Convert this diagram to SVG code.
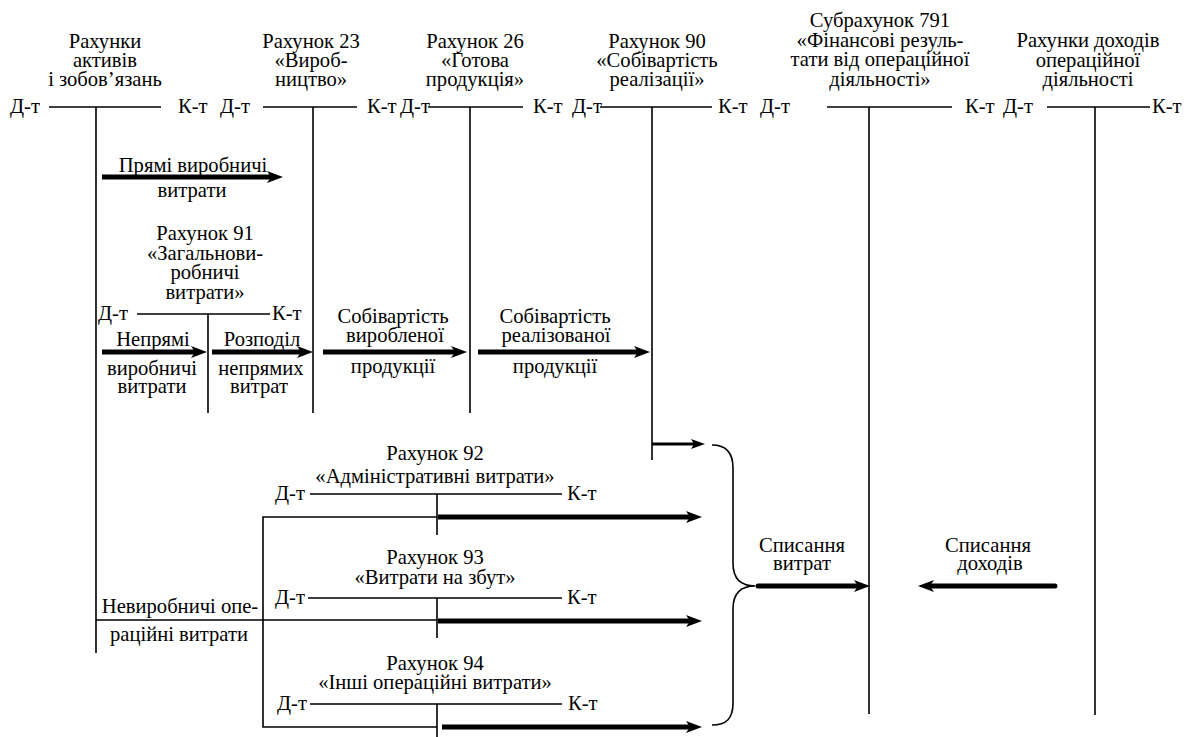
<svg xmlns="http://www.w3.org/2000/svg" width="1192" height="737" viewBox="0 0 1192 737">
<style>
text{font-family:'Liberation Serif', serif;font-size:20.6px;fill:#000}
.m{text-anchor:middle}
.ln{stroke:#000;stroke-width:1.6;fill:none}
.th{stroke:#000;stroke-width:5;fill:none}
.md{stroke:#000;stroke-width:3;fill:none}
</style>
<defs>
<marker id="ah" markerUnits="userSpaceOnUse" markerWidth="16" markerHeight="12" refX="6" refY="6" orient="auto"><path d="M0,0 L16,6 L0,12 L4,6 Z" fill="#000"/></marker>
<marker id="ahs" markerUnits="userSpaceOnUse" markerWidth="14" markerHeight="10" refX="5" refY="5" orient="auto"><path d="M0,0 L14,5 L0,10 L3,5 Z" fill="#000"/></marker>
</defs>
<rect width="1192" height="737" fill="#fff"/>

<g id="acc-assets">
<text class="m" x="105" y="48">Рахунки</text>
<text class="m" x="105" y="67">активів</text>
<text class="m" x="105" y="86">і зобов’язань</text>
<text x="10" y="113">Д-т</text><text x="178" y="113">К-т</text>
<path class="ln" d="M49,107 H161 M96,107 V653"/>
</g>

<g id="acc-23">
<text class="m" x="311" y="48">Рахунок 23</text>
<text class="m" x="311" y="67">«Вироб-</text>
<text class="m" x="311" y="86">ництво»</text>
<text x="220" y="113">Д-т</text><text x="367" y="113">К-т</text>
<path class="ln" d="M263,107 H357 M313,107 V413"/>
</g>

<g id="acc-26">
<text class="m" x="475" y="48">Рахунок 26</text>
<text class="m" x="475" y="67">«Готова</text>
<text class="m" x="475" y="86">продукція»</text>
<text x="400" y="113">Д-т</text><text x="533" y="113">К-т</text>
<path class="ln" d="M428,107 H523 M470,107 V413"/>
</g>

<g id="acc-90">
<text class="m" x="657" y="48">Рахунок 90</text>
<text class="m" x="657" y="67">«Собівартість</text>
<text class="m" x="657" y="86">реалізації»</text>
<text x="572" y="113">Д-т</text><text x="718" y="113">К-т</text>
<path class="ln" d="M600,107 H712 M652,107 V460"/>
</g>

<g id="acc-791">
<text class="m" x="880" y="27">Субрахунок 791</text>
<text class="m" x="880" y="47">«Фінансові резуль-</text>
<text class="m" x="880" y="66">тати від операційної</text>
<text class="m" x="880" y="86">діяльності»</text>
<text x="760" y="113">Д-т</text><text x="965" y="113">К-т</text>
<path class="ln" d="M827,107 H952 M869,107 V714"/>
</g>

<g id="acc-income">
<text class="m" x="1088" y="47">Рахунки доходів</text>
<text class="m" x="1088" y="67">операційної</text>
<text class="m" x="1088" y="86">діяльності</text>
<text x="1003" y="113">Д-т</text><text x="1152" y="113">К-т</text>
<path class="ln" d="M1047,107 H1150 M1095,107 V715"/>
</g>

<g id="acc-91">
<text class="m" x="205" y="240">Рахунок 91</text>
<text class="m" x="205" y="260">«Загальнови-</text>
<text class="m" x="205" y="279">робничі</text>
<text class="m" x="205" y="299">витрати»</text>
<text x="98" y="320">Д-т</text><text x="272" y="320">К-т</text>
<path class="ln" d="M137,314 H270 M208,314 V413"/>
</g>

<g id="acc-92">
<text class="m" x="435" y="460">Рахунок 92</text>
<text class="m" x="435" y="483">«Адміністративні витрати»</text>
<text x="275" y="500">Д-т</text><text x="567" y="500">К-т</text>
<path class="ln" d="M310,494 H562 M437,494 V535"/>
</g>

<g id="acc-93">
<text class="m" x="435" y="564">Рахунок 93</text>
<text class="m" x="435" y="584">«Витрати на збут»</text>
<text x="275" y="604">Д-т</text><text x="567" y="604">К-т</text>
<path class="ln" d="M308,598 H562 M437,598 V638"/>
</g>

<g id="acc-94">
<text class="m" x="435" y="670">Рахунок 94</text>
<text class="m" x="435" y="689">«Інші операційні витрати»</text>
<text x="277" y="710">Д-т</text><text x="568" y="710">К-т</text>
<path class="ln" d="M310,704 H562 M437,704 V737"/>
</g>

<g id="connectors">
<path class="th" d="M102,177 H273" marker-end="url(#ah)"/>
<text class="m" x="193" y="172">Прямі виробничі</text>
<text class="m" x="192" y="197">витрати</text>

<path class="th" d="M102,352 H197" marker-end="url(#ah)"/>
<text class="m" x="153" y="346">Непрямі</text>
<text class="m" x="152" y="375">виробничі</text>
<text class="m" x="152" y="393">витрати</text>

<path class="th" d="M212,352 H303" marker-end="url(#ah)"/>
<text class="m" x="262" y="346">Розподіл</text>
<text class="m" x="261" y="375">непрямих</text>
<text class="m" x="259" y="393">витрат</text>

<path class="th" d="M323,352 H457" marker-end="url(#ah)"/>
<text class="m" x="393" y="323">Собівартість</text>
<text class="m" x="395" y="342">виробленої</text>
<text class="m" x="393" y="373">продукції</text>

<path class="th" d="M478,352 H640" marker-end="url(#ah)"/>
<text class="m" x="555" y="323">Собівартість</text>
<text class="m" x="556" y="342">реалізованої</text>
<text class="m" x="555" y="373">продукції</text>

<path class="md" d="M652,444 H696" marker-end="url(#ahs)"/>

<path class="ln" d="M437,517 H263 V727 H437 M96,620 H437"/>
<path class="th" d="M438,517 H692" marker-end="url(#ah)"/>
<path class="th" d="M438,621 H692" marker-end="url(#ah)"/>
<path class="th" d="M442,727 H692" marker-end="url(#ah)"/>
<text class="m" x="180" y="613">Невиробничі опе-</text>
<text class="m" x="179" y="641">раційні витрати</text>

<path class="ln" d="M712,445 C726,445 733,452 733,468 L733,563 C733,578 740,586 755,586 C740,586 733,594 733,609 L733,703 C733,719 726,725 712,725"/>

<path class="th" stroke-linecap="round" d="M758,586 H860" marker-end="url(#ah)"/>
<text class="m" x="802" y="552">Списання</text>
<text class="m" x="802" y="570">витрат</text>

<path class="th" stroke-linecap="round" d="M1055,586 H928" marker-end="url(#ah)"/>
<text class="m" x="988" y="552">Списання</text>
<text class="m" x="990" y="570">доходів</text>
</g>
</svg>
